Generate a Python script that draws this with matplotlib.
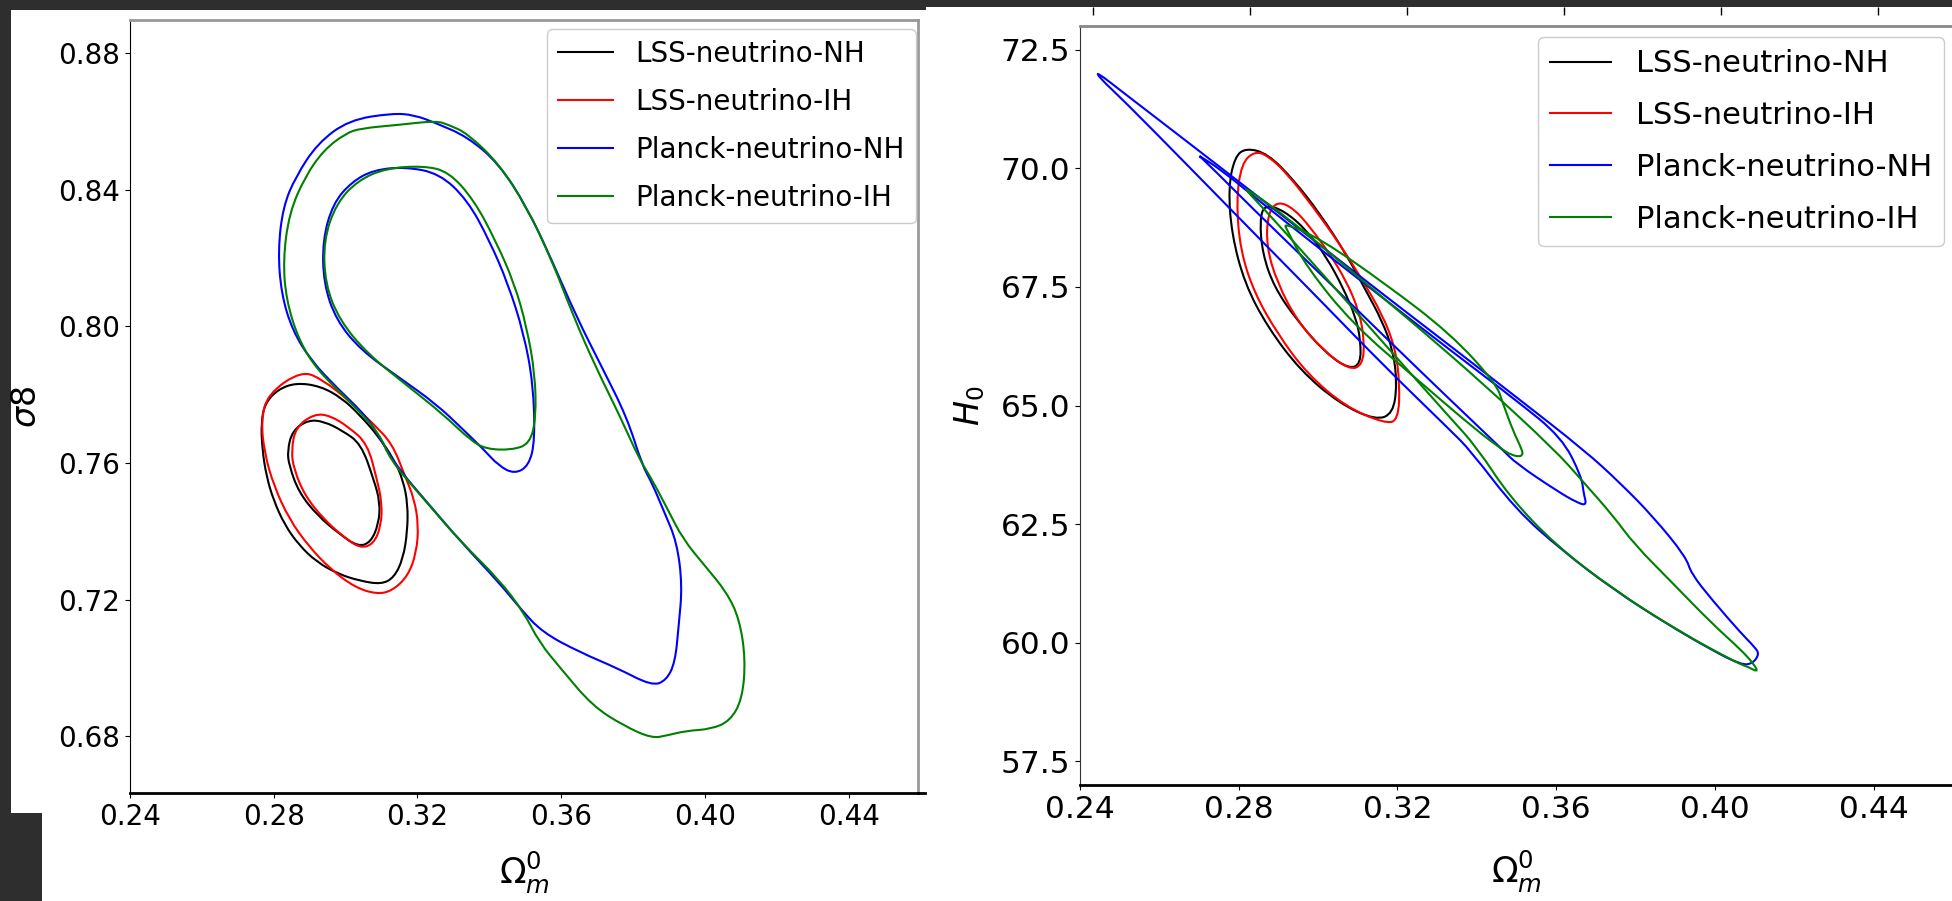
import matplotlib.pyplot as plt
from matplotlib.patches import Rectangle, PathPatch
from matplotlib.lines import Line2D
from matplotlib.path import Path

W, H = 1952, 901

# ---- left panel: Omega_m vs sigma8, 95% / 68% contours
L_LSS_NH_95 = [(0.2862, 0.7835), (0.2811, 0.7815), (0.2776, 0.7775), (0.2765, 0.7720), (0.2768, 0.7640),
               (0.2780, 0.7560), (0.2800, 0.7490), (0.2830, 0.7420), (0.2870, 0.7360), (0.2920, 0.7310),
               (0.2980, 0.7275), (0.3040, 0.7255), (0.3100, 0.7245), (0.3135, 0.7265), (0.3160, 0.7320),
               (0.3172, 0.7400), (0.3173, 0.7480), (0.3160, 0.7550), (0.3135, 0.7610), (0.3090, 0.7680),
               (0.3040, 0.7740), (0.2990, 0.7790), (0.2930, 0.7825)]
L_LSS_NH_68 = [(0.2896, 0.7726), (0.2852, 0.7695), (0.2838, 0.7636), (0.2843, 0.7592), (0.2870, 0.7514),
               (0.2922, 0.7446), (0.2983, 0.7392), (0.3035, 0.7355), (0.3070, 0.7368), (0.3092, 0.7422),
               (0.3096, 0.7485), (0.3078, 0.7553), (0.3043, 0.7656), (0.2991, 0.7695), (0.2939, 0.7722)]
L_LSS_IH_95 = [(0.2878, 0.7871), (0.2783, 0.7802), (0.2765, 0.7724), (0.2774, 0.7631), (0.2800, 0.7534),
               (0.2843, 0.7436), (0.2896, 0.7358), (0.2957, 0.7290), (0.3026, 0.7236), (0.3087, 0.7216),
               (0.3130, 0.7226), (0.3174, 0.7270), (0.3197, 0.7338), (0.3203, 0.7417), (0.3191, 0.7495),
               (0.3165, 0.7563), (0.3130, 0.7656), (0.3078, 0.7714), (0.3009, 0.7783), (0.2939, 0.7842)]
L_LSS_IH_68 = [(0.2913, 0.7744), (0.2861, 0.7705), (0.2849, 0.7636), (0.2856, 0.7582), (0.2887, 0.7504),
               (0.2939, 0.7436), (0.2991, 0.7387), (0.3040, 0.7350), (0.3078, 0.7363), (0.3099, 0.7417),
               (0.3101, 0.7485), (0.3087, 0.7553), (0.3061, 0.7656), (0.3009, 0.7705), (0.2957, 0.7739)]
L_PL_NH_95 = [(0.3130, 0.8624), (0.3009, 0.8604), (0.2922, 0.8536), (0.2861, 0.8438), (0.2826, 0.8350),
              (0.2812, 0.8223), (0.2821, 0.8096), (0.2852, 0.7988), (0.2904, 0.7900), (0.2974, 0.7822),
              (0.3061, 0.7734), (0.3104, 0.7656), (0.3148, 0.7582), (0.3235, 0.7475), (0.3322, 0.7368),
              (0.3426, 0.7251), (0.3487, 0.7173), (0.3548, 0.7104), (0.3652, 0.7046), (0.3757, 0.6999),
              (0.3852, 0.6948), (0.3892, 0.6963), (0.3917, 0.7016), (0.3927, 0.7124), (0.3937, 0.7241),
              (0.3922, 0.7368), (0.3887, 0.7456), (0.3852, 0.7543), (0.3826, 0.7592), (0.3783, 0.7734),
              (0.3713, 0.7881), (0.3643, 0.8027), (0.3574, 0.8194), (0.3504, 0.8350), (0.3426, 0.8477),
              (0.3339, 0.8555), (0.3252, 0.8595), (0.3191, 0.8619)]
L_PL_NH_68 = [(0.3165, 0.8467), (0.3078, 0.8458), (0.3017, 0.8423), (0.2965, 0.8360), (0.2936, 0.8252),
              (0.2939, 0.8125), (0.2974, 0.8018), (0.3043, 0.7930), (0.3148, 0.7851), (0.3252, 0.7773),
              (0.3330, 0.7695), (0.3383, 0.7641), (0.3426, 0.7592), (0.3470, 0.7568), (0.3510, 0.7592),
              (0.3527, 0.7666), (0.3522, 0.7832), (0.3496, 0.7979), (0.3452, 0.8125), (0.3400, 0.8252),
              (0.3339, 0.8370), (0.3261, 0.8448)]
L_PL_IH_95 = [(0.3252, 0.8602), (0.3148, 0.8590), (0.3043, 0.8580), (0.3000, 0.8565), (0.2939, 0.8516),
              (0.2887, 0.8438), (0.2843, 0.8331), (0.2826, 0.8194), (0.2835, 0.8076), (0.2870, 0.7959),
              (0.2922, 0.7871), (0.3009, 0.7783), (0.3096, 0.7685), (0.3122, 0.7612), (0.3217, 0.7495),
              (0.3322, 0.7368), (0.3426, 0.7260), (0.3496, 0.7163), (0.3539, 0.7075), (0.3600, 0.6997),
              (0.3687, 0.6889), (0.3774, 0.6831), (0.3852, 0.6794), (0.3896, 0.6803), (0.3948, 0.6816),
              (0.4017, 0.6821), (0.4070, 0.6845), (0.4104, 0.6909), (0.4113, 0.7026), (0.4096, 0.7143),
              (0.4061, 0.7221), (0.4000, 0.7299), (0.3939, 0.7377), (0.3896, 0.7465), (0.3852, 0.7553),
              (0.3817, 0.7612), (0.3765, 0.7734), (0.3696, 0.7881), (0.3635, 0.8027), (0.3574, 0.8194),
              (0.3504, 0.8350), (0.3426, 0.8477), (0.3339, 0.8565), (0.3287, 0.8590)]
L_PL_IH_68 = [(0.3217, 0.8470), (0.3113, 0.8463), (0.3035, 0.8428), (0.2974, 0.8360), (0.2939, 0.8252),
              (0.2943, 0.8125), (0.2983, 0.8018), (0.3061, 0.7920), (0.3165, 0.7832), (0.3270, 0.7744),
              (0.3348, 0.7666), (0.3391, 0.7641), (0.3461, 0.7638), (0.3513, 0.7656), (0.3530, 0.7734),
              (0.3527, 0.7861), (0.3504, 0.7998), (0.3470, 0.8125), (0.3417, 0.8252), (0.3357, 0.8370),
              (0.3287, 0.8453)]

# ---- right panel: Omega_m vs H0
R_LSS_NH_95 = [(0.2818, 70.43), (0.2790, 70.24), (0.2774, 69.60), (0.2782, 68.62), (0.2815, 67.57),
               (0.2873, 66.65), (0.2955, 65.74), (0.3054, 65.04), (0.3145, 64.69), (0.3189, 64.83),
               (0.3199, 65.46), (0.3189, 66.16), (0.3161, 66.79), (0.3120, 67.43), (0.3070, 68.20),
               (0.3005, 69.04), (0.2939, 69.75), (0.2873, 70.31)]
R_LSS_NH_68 = [(0.2865, 69.24), (0.2853, 68.90), (0.2860, 68.20), (0.2889, 67.50), (0.2947, 66.79),
               (0.3021, 66.09), (0.3079, 65.77), (0.3107, 65.88), (0.3107, 66.37), (0.3095, 66.86),
               (0.3062, 67.50), (0.3021, 68.13), (0.2972, 68.69), (0.2914, 69.11)]
R_LSS_IH_95 = [(0.2840, 70.36), (0.2807, 70.10), (0.2794, 69.32), (0.2804, 68.27), (0.2840, 67.36),
               (0.2898, 66.51), (0.2972, 65.67), (0.3070, 64.97), (0.3169, 64.62), (0.3202, 64.69),
               (0.3206, 65.46), (0.3194, 66.23), (0.3161, 66.93), (0.3112, 67.64), (0.3054, 68.41),
               (0.2988, 69.18), (0.2922, 69.89), (0.2873, 70.27)]
R_LSS_IH_68 = [(0.2898, 69.31), (0.2873, 69.04), (0.2870, 68.34), (0.2898, 67.57), (0.2947, 66.79),
               (0.3013, 66.16), (0.3079, 65.75), (0.3112, 65.85), (0.3117, 66.37), (0.3103, 67.00),
               (0.3070, 67.64), (0.3029, 68.20), (0.2980, 68.76), (0.2939, 69.15)]
R_PL_NH_95 = [(0.2441, 72.04), (0.2510, 71.59), (0.2675, 70.53), (0.2840, 69.46), (0.3005, 68.38),
              (0.3169, 67.31), (0.3334, 66.25), (0.3499, 65.18), (0.3672, 64.05), (0.3762, 63.36),
              (0.3845, 62.65), (0.3927, 61.81), (0.3940, 61.46), (0.3993, 60.90), (0.4067, 60.19),
              (0.4100, 59.91), (0.4112, 59.76), (0.4095, 59.56), (0.4067, 59.53), (0.3993, 59.84),
              (0.3878, 60.40), (0.3746, 61.11), (0.3614, 61.95), (0.3499, 62.80), (0.3383, 64.06),
              (0.3334, 64.47), (0.3169, 65.81), (0.3005, 67.22), (0.2840, 68.62), (0.2675, 70.03),
              (0.2510, 71.43), (0.2450, 71.90)]
R_PL_NH_68 = [(0.2692, 70.31), (0.2757, 69.96), (0.2840, 69.39), (0.3005, 68.30), (0.3169, 67.23),
              (0.3334, 66.16), (0.3499, 65.11), (0.3614, 64.33), (0.3664, 63.50), (0.3669, 63.15),
              (0.3677, 62.90), (0.3655, 62.94), (0.3598, 63.22), (0.3499, 63.78), (0.3466, 64.06),
              (0.3334, 65.11), (0.3169, 66.44), (0.3005, 67.78), (0.2840, 69.11), (0.2710, 70.20)]
R_PL_IH_95 = [(0.2815, 69.60), (0.2922, 68.97), (0.3087, 67.81), (0.3252, 66.65), (0.3416, 65.46),
              (0.3598, 64.05), (0.3664, 63.43), (0.3746, 62.65), (0.3795, 62.09), (0.3894, 61.25),
              (0.3993, 60.40), (0.4067, 59.84), (0.4100, 59.53), (0.4108, 59.38), (0.4084, 59.49),
              (0.4059, 59.56), (0.3911, 60.23), (0.3746, 61.11), (0.3598, 62.06), (0.3482, 63.08),
              (0.3400, 64.12), (0.3334, 64.73), (0.3169, 66.28), (0.3005, 67.83), (0.2873, 69.06),
              (0.2825, 69.48)]
R_PL_IH_68 = [(0.2914, 68.85), (0.3005, 68.52), (0.3169, 67.57), (0.3334, 66.51), (0.3449, 65.46),
              (0.3466, 65.04), (0.3491, 64.47), (0.3515, 64.05), (0.3515, 63.96), (0.3507, 63.92),
              (0.3487, 63.96), (0.3466, 64.06), (0.3400, 64.47), (0.3252, 65.53), (0.3087, 66.72),
              (0.2972, 67.91), (0.2922, 68.69)]

LABELS = ['LSS-neutrino-NH', 'LSS-neutrino-IH', 'Planck-neutrino-NH', 'Planck-neutrino-IH']
COLORS = ['black', 'red', 'blue', 'green']
X_TICKS = [0.24, 0.28, 0.32, 0.36, 0.40, 0.44]
S8_TICKS = [0.68, 0.72, 0.76, 0.80, 0.84, 0.88]
H0_TICKS = [57.5, 60.0, 62.5, 65.0, 67.5, 70.0, 72.5]

left_sets = [(L_LSS_NH_95, L_LSS_NH_68), (L_LSS_IH_95, L_LSS_IH_68),
             (L_PL_NH_95, L_PL_NH_68), (L_PL_IH_95, L_PL_IH_68)]
right_sets = [(R_LSS_NH_95, R_LSS_NH_68), (R_LSS_IH_95, R_LSS_IH_68),
              (R_PL_NH_95, R_PL_NH_68), (R_PL_IH_95, R_PL_IH_68)]


def px_box(x0, y0, x1, y1):
    # pixel box (top-left origin) -> figure fraction rect
    return [x0 / W, 1 - y1 / H, (x1 - x0) / W, (y1 - y0) / H]


def closed_curve(pts):
    # smooth closed outline: read points used as quadratic bezier control points
    n = len(pts)
    mids = [((pts[i][0] + pts[(i + 1) % n][0]) / 2, (pts[i][1] + pts[(i + 1) % n][1]) / 2)
            for i in range(n)]
    verts = [mids[-1]]
    codes = [Path.MOVETO]
    for i in range(n):
        verts += [pts[i], mids[i]]
        codes += [Path.CURVE3, Path.CURVE3]
    return Path(verts, codes)


def draw_contours(ax, sets):
    for (outer, inner), col, lab in zip(sets, COLORS, LABELS):
        for pts in (outer, inner):
            ax.add_patch(PathPatch(closed_curve(pts), fill=False, edgecolor=col, lw=1.5))
        ax.plot([], [], color=col, lw=1.5, label=lab)


fig = plt.figure(figsize=(W / 100, H / 100), dpi=100)
fig.patch.set_facecolor('#2e2e2e')

# white screenshot panels
for box in [px_box(11, 10, 926, 813), px_box(42, 813, 926, H), px_box(926, 7, W, H)]:
    fig.add_artist(Rectangle((box[0], box[1]), box[2], box[3], transform=fig.transFigure,
                             facecolor='white', edgecolor='none', zorder=0))

# leftover ticks at the top of the right screenshot
axt = fig.add_axes(px_box(1093, 6, 1093 + 157 * 5.5, 7))
axt.set_xlim(0.24, 0.46)
axt.set_xticks(X_TICKS)
axt.tick_params(axis='x', direction='out', length=6, width=1, labelbottom=False)
axt.set_yticks([])
for s in axt.spines.values():
    s.set_visible(False)
axt.patch.set_alpha(0)

# ---- left
ax1 = fig.add_axes(px_box(130, 20, 918, 793))
draw_contours(ax1, left_sets)
ax1.set_xlim(0.24, 0.4593)
ax1.set_ylim(0.6634, 0.8897)
ax1.set_xticks(X_TICKS)
ax1.set_xticklabels(['%.2f' % v for v in X_TICKS])
ax1.set_yticks(S8_TICKS)
ax1.set_yticklabels(['%.2f' % v for v in S8_TICKS])
ax1.tick_params(labelsize=20)
ax1.set_xlabel(r'$\Omega_m^0$', fontsize=25)
ax1.xaxis.set_label_coords(0.5, -0.073)
ax1.set_ylabel(r'$\sigma8$', fontsize=24)
ax1.yaxis.set_label_coords(-0.111, 0.5)
ax1.spines['top'].set_color('#999999')
ax1.spines['right'].set_color('#999999')
ax1.spines['top'].set_linewidth(2)
ax1.spines['right'].set_linewidth(2)
ax1.spines['bottom'].set_linewidth(2)
ax1.legend(loc='upper right', bbox_to_anchor=(0.9975, 0.9884), borderaxespad=0,
           fontsize=20, labelspacing=0.72, framealpha=1)
# bottom axis line of the left screenshot runs a little past its frame
fig.add_artist(Line2D([918 / W, 925 / W], [1 - 793 / H, 1 - 793 / H], color='black', lw=2))

# ---- right
ax2 = fig.add_axes(px_box(1080, 26, 1953, 785))
draw_contours(ax2, right_sets)
ax2.set_xlim(0.24, 0.46)
ax2.set_ylim(57.0, 73.0)
ax2.set_xticks(X_TICKS)
ax2.set_xticklabels(['%.2f' % v for v in X_TICKS])
ax2.set_yticks(H0_TICKS)
ax2.set_yticklabels(['%.1f' % v for v in H0_TICKS])
ax2.tick_params(labelsize=22.5)
ax2.set_xlabel(r'$\Omega_m^0$', fontsize=25)
ax2.xaxis.set_label_coords(0.5, -0.084)
ax2.set_ylabel(r'$H_0$', fontsize=24)
ax2.yaxis.set_label_coords(-0.106, 0.5)
ax2.spines['right'].set_visible(False)
ax2.spines['top'].set_color('#888888')
ax2.spines['top'].set_linewidth(2)
ax2.spines['left'].set_color('#333333')
ax2.spines['bottom'].set_linewidth(2)
ax2.legend(loc='upper right', bbox_to_anchor=(0.9897, 0.9855), borderaxespad=0,
           fontsize=22, labelspacing=0.75, framealpha=1)

fig.savefig('out.png', dpi=100, facecolor=fig.get_facecolor())
